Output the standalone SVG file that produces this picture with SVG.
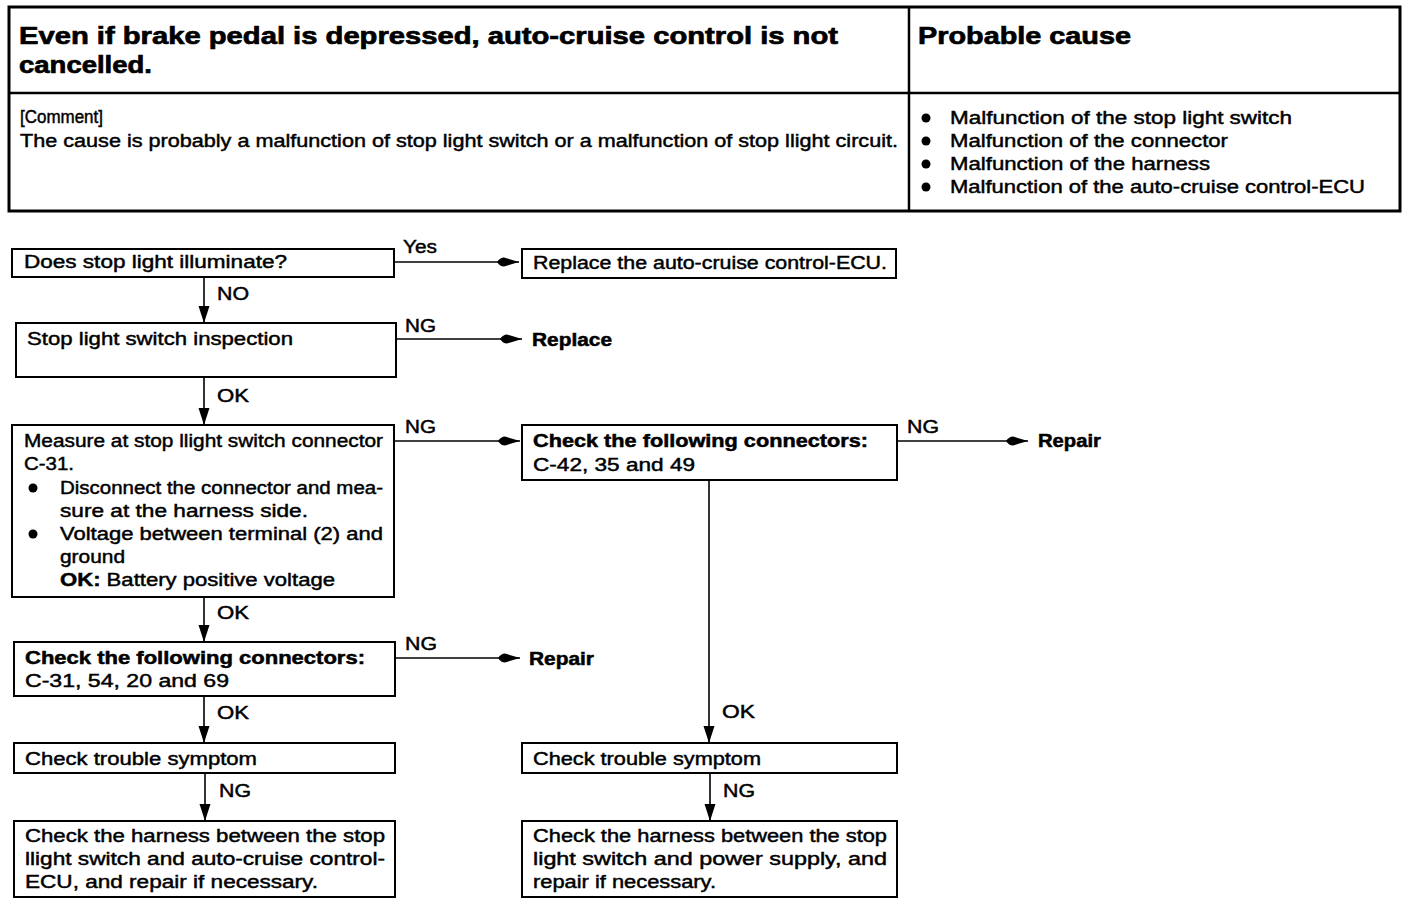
<svg xmlns="http://www.w3.org/2000/svg" width="1424" height="906" viewBox="0 0 1424 906">
<style>
text{font-family:"Liberation Sans",Arial,Helvetica,sans-serif;fill:#000}
.t{font-size:18px;stroke:#000;stroke-width:0.45}
.b{font-size:18px;font-weight:bold;stroke:#000;stroke-width:0.5}
.h{font-size:24px;font-weight:bold;stroke:#000;stroke-width:0.7}
.box{fill:#fff;stroke:#000;stroke-width:2}
.frame{fill:#fff;stroke:#000;stroke-width:3}
.rule{stroke:#000;stroke-width:2.5}
.ln{stroke:#000;stroke-width:1.6;fill:none}
.ah{marker-end:url(#ah)}
.av{marker-end:url(#av)}
</style>
<defs>
<marker id="ah" markerUnits="userSpaceOnUse" markerWidth="24" markerHeight="12" refX="22" refY="6" orient="auto">
<path d="M0,6 Q3,1.5 7,1.5 L22,6 L7,10.5 Q3,10.5 0,6 Z" fill="#000"/>
</marker>
<marker id="av" markerUnits="userSpaceOnUse" markerWidth="18" markerHeight="14" refX="17" refY="7" orient="auto">
<path d="M0,1.5 L17,7 L0,12.5 Z" fill="#000"/>
</marker>
</defs>
<rect width="1424" height="906" fill="#fff"/>

<g id="header">
<rect class="frame" x="9" y="7" width="1391" height="204"/>
<line class="rule" x1="9" y1="93" x2="1400" y2="93"/>
<line class="rule" x1="909" y1="7" x2="909" y2="211"/>
<text class="h" x="19" y="44" textLength="819" lengthAdjust="spacingAndGlyphs">Even if brake pedal is depressed, auto-cruise control is not</text>
<text class="h" x="19" y="73" textLength="133" lengthAdjust="spacingAndGlyphs">cancelled.</text>
<text class="h" x="918" y="44" textLength="213" lengthAdjust="spacingAndGlyphs">Probable cause</text>
<text class="t" x="20" y="123" textLength="83" lengthAdjust="spacingAndGlyphs">[Comment]</text>
<text class="t" x="20" y="147" textLength="878" lengthAdjust="spacingAndGlyphs">The cause is probably a malfunction of stop light switch or a malfunction of stop llight circuit.</text>
<circle cx="926" cy="118" r="4.5"/>
<circle cx="926" cy="141" r="4.5"/>
<circle cx="926" cy="164" r="4.5"/>
<circle cx="926" cy="187" r="4.5"/>
<text class="t" x="950" y="124" textLength="342" lengthAdjust="spacingAndGlyphs">Malfunction of the stop light switch</text>
<text class="t" x="950" y="147" textLength="278" lengthAdjust="spacingAndGlyphs">Malfunction of the connector</text>
<text class="t" x="950" y="170" textLength="260" lengthAdjust="spacingAndGlyphs">Malfunction of the harness</text>
<text class="t" x="950" y="193" textLength="415" lengthAdjust="spacingAndGlyphs">Malfunction of the auto-cruise control-ECU</text>
</g>

<g id="connectors">
<line class="ln ah" x1="394" y1="262" x2="519" y2="262"/>
<text class="t" x="403" y="253" textLength="34" lengthAdjust="spacingAndGlyphs">Yes</text>
<line class="ln av" x1="204" y1="277" x2="204" y2="323"/>
<text class="t" x="217" y="300" textLength="32" lengthAdjust="spacingAndGlyphs">NO</text>
<line class="ln ah" x1="396" y1="339" x2="522" y2="339"/>
<text class="t" x="405" y="332" textLength="31" lengthAdjust="spacingAndGlyphs">NG</text>
<line class="ln av" x1="204" y1="377" x2="204" y2="425"/>
<text class="t" x="217" y="402" textLength="32" lengthAdjust="spacingAndGlyphs">OK</text>
<line class="ln ah" x1="394" y1="441" x2="520" y2="441"/>
<text class="t" x="405" y="433" textLength="31" lengthAdjust="spacingAndGlyphs">NG</text>
<line class="ln ah" x1="897" y1="441" x2="1028" y2="441"/>
<text class="t" x="907" y="433" textLength="32" lengthAdjust="spacingAndGlyphs">NG</text>
<line class="ln av" x1="709" y1="480" x2="709" y2="743"/>
<text class="t" x="722" y="718" textLength="33" lengthAdjust="spacingAndGlyphs">OK</text>
<line class="ln av" x1="204" y1="597" x2="204" y2="642"/>
<text class="t" x="217" y="619" textLength="32" lengthAdjust="spacingAndGlyphs">OK</text>
<line class="ln ah" x1="395" y1="658" x2="520" y2="658"/>
<text class="t" x="405" y="650" textLength="32" lengthAdjust="spacingAndGlyphs">NG</text>
<line class="ln av" x1="204" y1="696" x2="204" y2="743"/>
<text class="t" x="217" y="719" textLength="32" lengthAdjust="spacingAndGlyphs">OK</text>
<line class="ln av" x1="205" y1="773" x2="205" y2="821"/>
<text class="t" x="219" y="797" textLength="32" lengthAdjust="spacingAndGlyphs">NG</text>
<line class="ln av" x1="710" y1="773" x2="710" y2="821"/>
<text class="t" x="723" y="797" textLength="32" lengthAdjust="spacingAndGlyphs">NG</text>
</g>

<g id="n-illuminate">
<rect class="box" x="12" y="249" width="382" height="28"/>
<text class="t" x="24" y="268" textLength="263" lengthAdjust="spacingAndGlyphs">Does stop light illuminate?</text>
</g>
<g id="n-replace-ecu">
<rect class="box" x="522" y="249" width="374" height="29"/>
<text class="t" x="533" y="269" textLength="354" lengthAdjust="spacingAndGlyphs">Replace the auto-cruise control-ECU.</text>
</g>
<g id="n-switch-inspection">
<rect class="box" x="16" y="323" width="380" height="54"/>
<text class="t" x="27" y="345" textLength="266" lengthAdjust="spacingAndGlyphs">Stop light switch inspection</text>
</g>
<g id="n-replace">
<text class="b" x="532" y="346" textLength="80" lengthAdjust="spacingAndGlyphs">Replace</text>
</g>
<g id="n-measure">
<rect class="box" x="12" y="425" width="382" height="172"/>
<text class="t" x="24" y="447" textLength="359" lengthAdjust="spacingAndGlyphs">Measure at stop llight switch connector</text>
<text class="t" x="24" y="470" textLength="50" lengthAdjust="spacingAndGlyphs">C-31.</text>
<circle cx="33" cy="488" r="4.5"/>
<text class="t" x="60" y="494" textLength="323" lengthAdjust="spacingAndGlyphs">Disconnect the connector and mea-</text>
<text class="t" x="60" y="517" textLength="248" lengthAdjust="spacingAndGlyphs">sure at the harness side.</text>
<circle cx="33" cy="534" r="4.5"/>
<text class="t" x="60" y="540" textLength="323" lengthAdjust="spacingAndGlyphs">Voltage between terminal (2) and</text>
<text class="t" x="60" y="563" textLength="65" lengthAdjust="spacingAndGlyphs">ground</text>
<text class="t" x="60" y="586" textLength="275" lengthAdjust="spacingAndGlyphs"><tspan font-weight="bold">OK:</tspan> Battery positive voltage</text>
</g>
<g id="n-check-c42">
<rect class="box" x="522" y="425" width="375" height="55"/>
<text class="b" x="533" y="447" textLength="335" lengthAdjust="spacingAndGlyphs">Check the following connectors:</text>
<text class="t" x="533" y="471" textLength="162" lengthAdjust="spacingAndGlyphs">C-42, 35 and 49</text>
</g>
<g id="n-repair-1">
<text class="b" x="1038" y="447" textLength="63" lengthAdjust="spacingAndGlyphs">Repair</text>
</g>
<g id="n-check-c31">
<rect class="box" x="14" y="642" width="381" height="54"/>
<text class="b" x="25" y="664" textLength="340" lengthAdjust="spacingAndGlyphs">Check the following connectors:</text>
<text class="t" x="25" y="687" textLength="204" lengthAdjust="spacingAndGlyphs">C-31, 54, 20 and 69</text>
</g>
<g id="n-repair-2">
<text class="b" x="529" y="665" textLength="65" lengthAdjust="spacingAndGlyphs">Repair</text>
</g>
<g id="n-symptom-left">
<rect class="box" x="14" y="743" width="381" height="30"/>
<text class="t" x="25" y="765" textLength="232" lengthAdjust="spacingAndGlyphs">Check trouble symptom</text>
</g>
<g id="n-harness-left">
<rect class="box" x="14" y="821" width="381" height="76"/>
<text class="t" x="25" y="842" textLength="360" lengthAdjust="spacingAndGlyphs">Check the harness between the stop</text>
<text class="t" x="25" y="865" textLength="360" lengthAdjust="spacingAndGlyphs">llight switch and auto-cruise control-</text>
<text class="t" x="25" y="888" textLength="293" lengthAdjust="spacingAndGlyphs">ECU, and repair if necessary.</text>
</g>
<g id="n-symptom-right">
<rect class="box" x="522" y="743" width="375" height="30"/>
<text class="t" x="533" y="765" textLength="228" lengthAdjust="spacingAndGlyphs">Check trouble symptom</text>
</g>
<g id="n-harness-right">
<rect class="box" x="522" y="821" width="375" height="76"/>
<text class="t" x="533" y="842" textLength="354" lengthAdjust="spacingAndGlyphs">Check  the harness between the stop</text>
<text class="t" x="533" y="865" textLength="354" lengthAdjust="spacingAndGlyphs">light switch and power supply, and</text>
<text class="t" x="533" y="888" textLength="183" lengthAdjust="spacingAndGlyphs">repair if necessary.</text>
</g>
</svg>
